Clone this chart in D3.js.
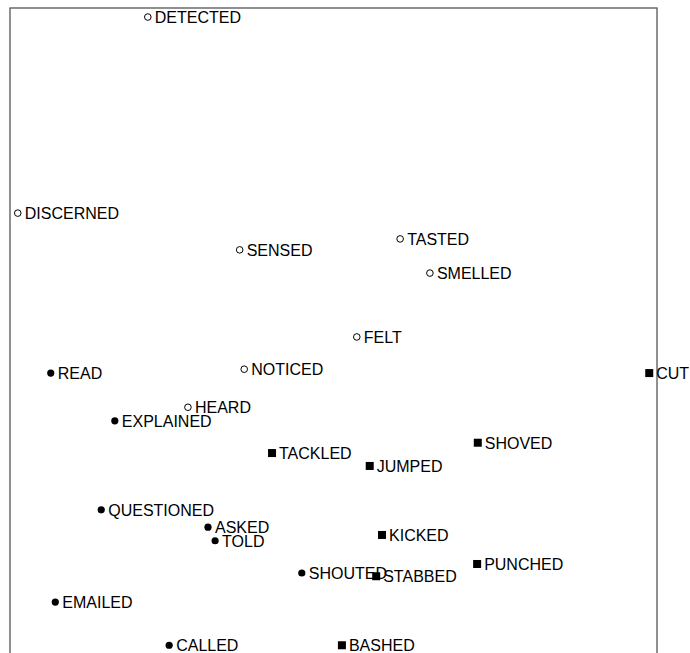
<!DOCTYPE html>
<html>
<head>
<meta charset="utf-8">
<script src="https://cdn.jsdelivr.net/npm/d3@7"></script>
<style>
  body { margin: 0; background: #fff; }
  text { font-family: "Liberation Sans", Arial, sans-serif; font-size: 16px; fill: #000; }
</style>
</head>
<body>
<div id="chart"></div>
<script>
// verb map: 2-D coordinates (arbitrary units 0..100) and group
const words = ["DETECTED", "DISCERNED", "SENSED", "TASTED", "SMELLED", "FELT", "NOTICED", "HEARD",
  "READ", "EXPLAINED", "QUESTIONED", "ASKED", "TOLD", "SHOUTED", "EMAILED", "CALLED",
  "CUT", "SHOVED", "TACKLED", "JUMPED", "KICKED", "PUNCHED", "STABBED", "BASHED"]
const xVals = [21.3, 1.2, 35.5, 60.3, 64.9, 53.6, 36.2, 27.5,
  6.3, 16.2, 14.1, 30.6, 31.7, 45.1, 7.0, 24.6,
  98.8, 72.3, 40.5, 55.6, 57.5, 72.2, 56.6, 51.3]
const yVals = [98.6, 68.2, 62.5, 64.2, 58.9, 49.0, 44.0, 38.1,
  43.4, 36.0, 22.2, 19.5, 17.4, 12.4, 7.9, 1.2,
  43.4, 32.6, 31.0, 29.0, 18.3, 13.8, 11.9, 1.2]
const groups = ["perception", "perception", "perception", "perception", "perception", "perception", "perception", "perception",
  "communication", "communication", "communication", "communication", "communication", "communication", "communication", "communication",
  "contact", "contact", "contact", "contact", "contact", "contact", "contact", "contact"]

const width = 690, height = 653
const box = { left: 10, top: 8, right: 657 }

const svg = d3.select('#chart').append('svg')
  .attr('width', width)
  .attr('height', height)

const x = d3.scaleLinear().domain([0, 100]).range([box.left, box.right])
const y = d3.scaleLinear().domain([0, 100]).range([653, box.top])

// frame (bottom edge falls outside the picture)
svg.append('rect')
  .attr('x', box.left)
  .attr('y', box.top)
  .attr('width', box.right - box.left)
  .attr('height', 720)
  .style('fill', 'none')
  .style('stroke', '#555')
  .style('stroke-width', 1.3)

const data = words.map((w, i) => ({ word: w, x: xVals[i], y: yVals[i], group: groups[i] }))

const g = svg.selectAll('.pt')
  .data(data)
  .enter()
  .append('g')
  .attr('class', 'pt')
  .attr('transform', d => `translate(${x(d.x)},${y(d.y)})`)

g.filter(d => d.group === 'perception')
  .append('circle')
  .attr('r', 3.3)
  .style('fill', '#fff')
  .style('stroke', '#000')
  .style('stroke-width', 1)

g.filter(d => d.group === 'communication')
  .append('circle')
  .attr('r', 3.6)
  .style('fill', '#000')

g.filter(d => d.group === 'contact')
  .append('rect')
  .attr('x', -4)
  .attr('y', -4)
  .attr('width', 8)
  .attr('height', 8)
  .style('fill', '#000')

g.append('text')
  .attr('x', 7)
  .attr('y', 6)
  .text(d => d.word)
</script>
</body>
</html>
